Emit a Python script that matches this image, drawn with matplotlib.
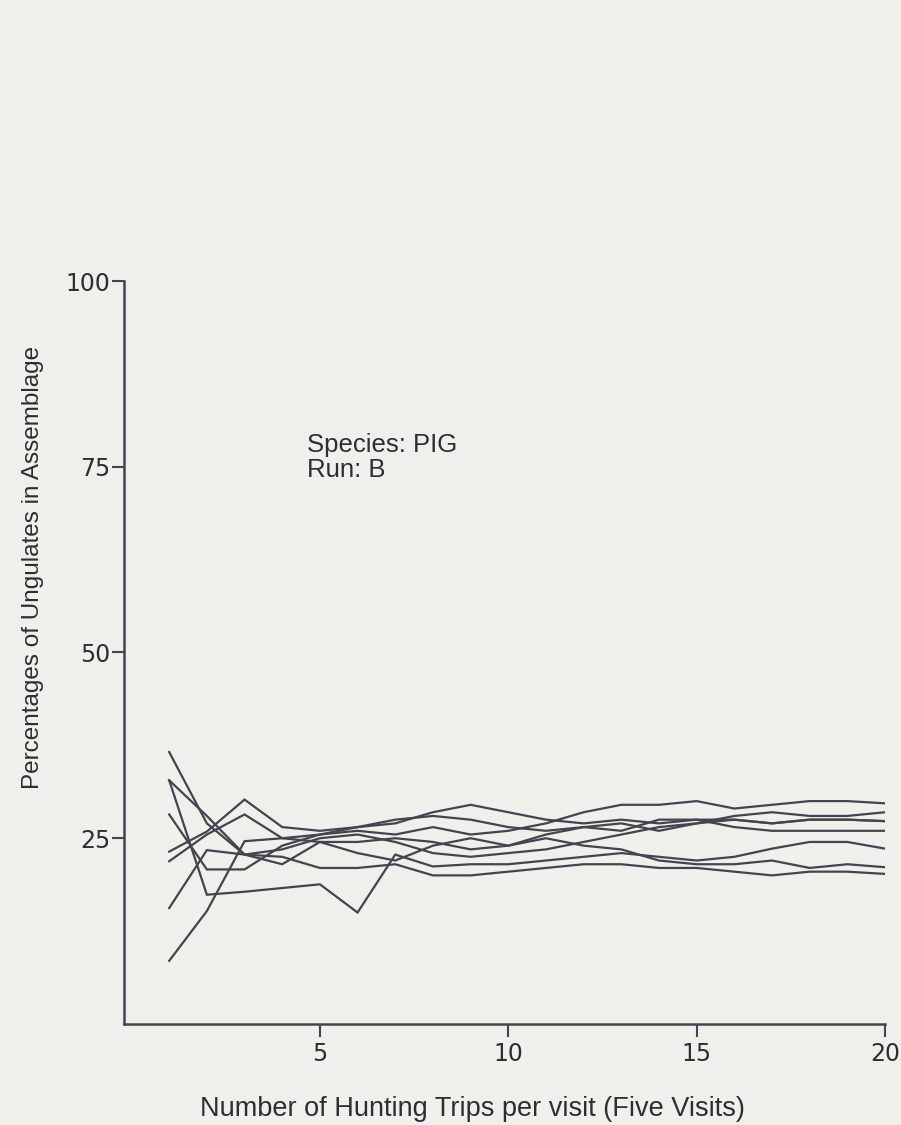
import numpy as np
import matplotlib
matplotlib.use("Agg")
import matplotlib.pyplot as plt

# hunting trips per visit
trips = list(range(1, 21))

# percentage of pig in the assemblage, one list per simulated visit
run_a = [36.6, 27.0, 22.8, 23.5, 25.0, 25.5, 24.5, 23.0, 22.5, 23.0,
         23.5, 24.5, 25.5, 26.5, 27.0, 27.5, 27.0, 27.5, 27.5, 27.3]
run_b = [32.8, 17.4, 17.8, 18.3, 18.8, 15.0, 22.8, 21.2, 21.5, 21.5,
         22.0, 22.5, 23.0, 22.5, 22.0, 22.5, 23.6, 24.5, 24.5, 23.6]
run_c = [32.8, 28.0, 22.8, 21.5, 24.5, 23.0, 22.0, 24.0, 25.0, 24.0,
         25.5, 26.5, 27.0, 26.0, 27.0, 28.0, 28.5, 28.0, 28.0, 28.5]
run_d = [28.2, 20.8, 20.8, 24.0, 25.5, 26.0, 25.5, 26.5, 25.5, 26.0,
         27.0, 28.5, 29.5, 29.5, 30.0, 29.0, 29.5, 30.0, 30.0, 29.7]
run_e = [23.2, 25.9, 30.2, 26.5, 26.0, 26.5, 27.5, 28.0, 27.5, 26.5,
         26.0, 26.5, 26.0, 27.5, 27.5, 26.5, 26.0, 26.0, 26.0, 26.0]
run_f = [21.9, 25.5, 28.2, 25.0, 24.5, 24.5, 25.0, 24.5, 23.5, 24.0,
         25.0, 24.0, 23.5, 22.0, 21.5, 21.5, 22.0, 21.0, 21.5, 21.1]
run_g = [15.6, 23.4, 22.8, 22.5, 21.0, 21.0, 21.5, 20.0, 20.0, 20.5,
         21.0, 21.5, 21.5, 21.0, 21.0, 20.5, 20.0, 20.5, 20.5, 20.2]
run_h = [8.5, 15.2, 24.6, 25.0, 25.5, 26.5, 27.0, 28.5, 29.5, 28.5,
         27.5, 27.0, 27.5, 27.0, 27.5, 27.5, 27.0, 27.5, 27.5, 27.3]
runs = [run_a, run_b, run_c, run_d, run_e, run_f, run_g, run_h]

x_ticks = [5, 10, 15, 20]
y_ticks = [25, 50, 75, 100]

PAPER = "#f0efeb"
INK = "#46434e"
TEXT = "#2f2d33"

fig = plt.figure(figsize=(9.01, 11.25), dpi=100, facecolor=PAPER)
ax = fig.add_axes([0.1376, 0.0898, 0.8447, 0.6604])
ax.set_facecolor(PAPER)

for r in runs:
    ax.plot(trips, r, color=INK, lw=1.6, solid_joinstyle="miter")

ax.set_xlim(-0.2, 20)
ax.set_ylim(0, 100)
ax.set_xticks(x_ticks)
ax.set_yticks(y_ticks)

for s in ["top", "right"]:
    ax.spines[s].set_visible(False)
for s in ["left", "bottom"]:
    ax.spines[s].set_color(INK)
    ax.spines[s].set_linewidth(1.8)

ax.tick_params(axis="both", direction="out", length=9, width=1.5, color=INK,
               labelcolor=TEXT, labelsize=17, pad=1)
ax.tick_params(axis="x", pad=4)
for lab in ax.get_xticklabels() + ax.get_yticklabels():
    lab.set_family("DejaVu Sans")

ax.set_xlabel("Number of Hunting Trips per visit (Five Visits)",
              fontsize=19.5, family="Liberation Sans", color=TEXT, labelpad=20)
ax.xaxis.set_label_coords(0.458, -0.097)
ax.set_ylabel("Percentages of Ungulates in Assemblage",
              fontsize=17.5, family="Liberation Sans", color=TEXT)
ax.yaxis.set_label_coords(-0.105, 0.615)

ax.text(4.65, 79.5, "Species: PIG\nRun: B", fontsize=18.5, family="Liberation Sans",
        color=TEXT, va="top", ha="left", linespacing=1.05)

fig.savefig("out.png", dpi=100, facecolor=PAPER)
